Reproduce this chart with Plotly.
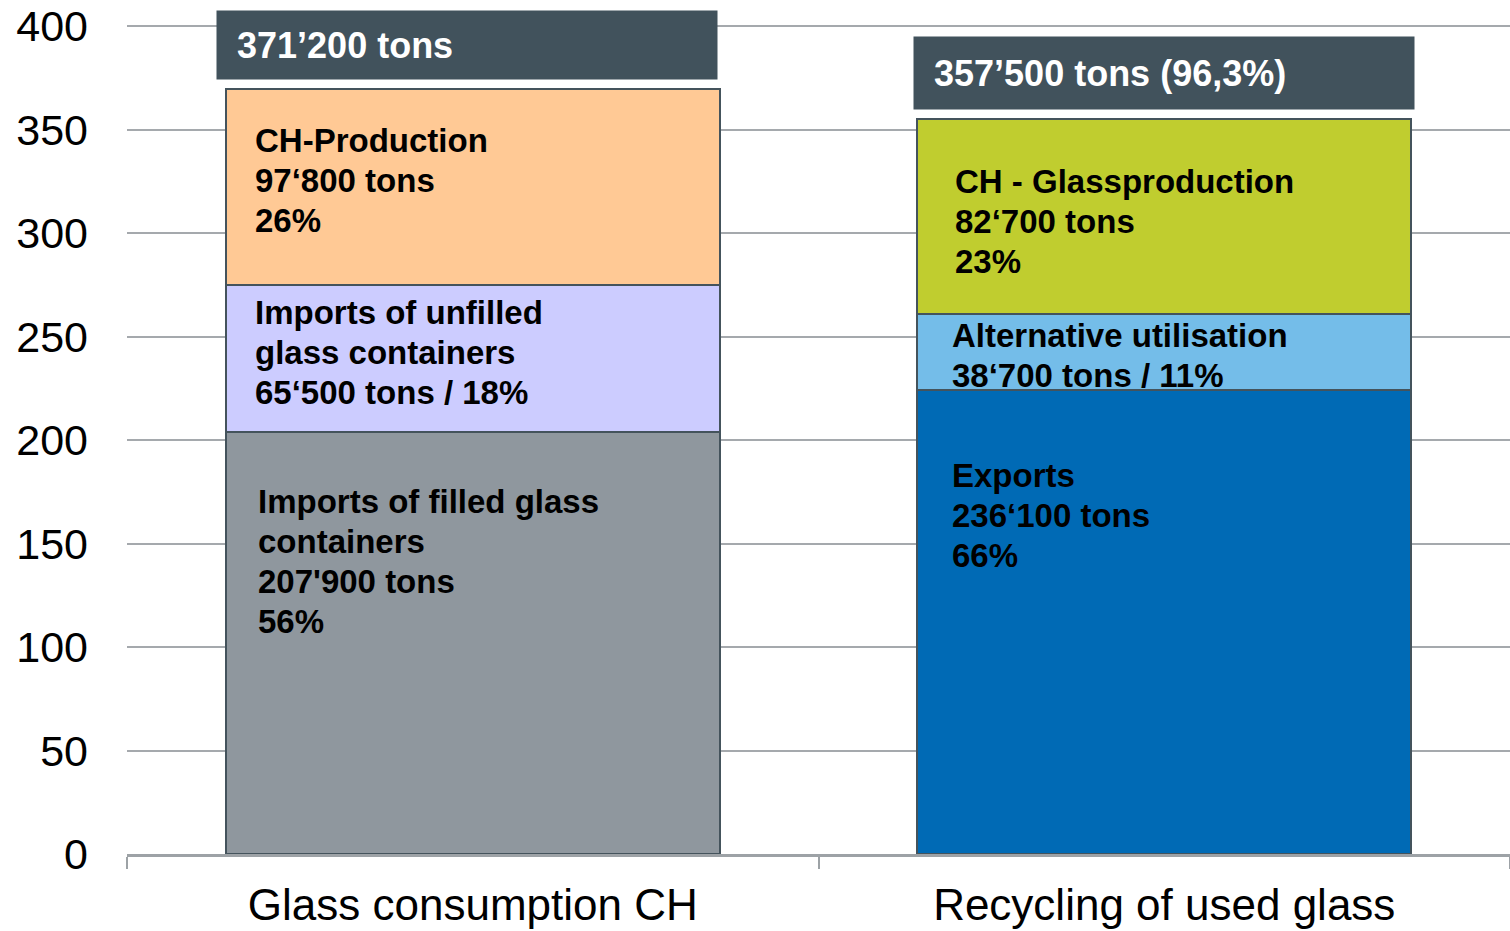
import plotly.graph_objects as go

# ---- data ----
categories = ["Glass consumption CH", "Recycling of used glass"]
bottom_vals = [204.0, 224.2]   # Imports of filled glass containers / Exports
middle_vals = [70.9, 36.5]     # Imports of unfilled glass containers / Alternative utilisation
top_vals = [94.8, 94.2]        # CH-Production / CH - Glassproduction

total_labels = ["371’200 tons", "357’500 tons (96,3%)"]

bottom_labels = [["Imports of filled glass", "containers", "207'900 tons", "56%"],
                 ["Exports", "236‘100 tons", "66%"]]
middle_labels = [["Imports of unfilled", "glass containers", "65‘500 tons / 18%"],
                 ["Alternative utilisation", "38‘700 tons / 11%"]]
top_labels = [["CH-Production", "97‘800 tons", "26%"],
              ["CH - Glassproduction", "82‘700 tons", "23%"]]

y_ticks = [0, 50, 100, 150, 200, 250, 300, 350, 400]

# ---- styles ----
FONT = "Liberation Sans, Arial, sans-serif"
bottom_colors = ["#8F979E", "#006AB5"]
middle_colors = ["#CCCCFF", "#74BDE9"]
top_colors = ["#FFC995", "#C0CD2F"]
outline = "#44535C"
box_color = "#41525C"
grid_color = "#A5A9AD"

fig = go.Figure()
for vals, cols in [(bottom_vals, bottom_colors), (middle_vals, middle_colors), (top_vals, top_colors)]:
    fig.add_trace(go.Bar(
        x=categories, y=vals, width=0.714,
        marker=dict(color=cols, line=dict(color=outline, width=2)),
        hoverinfo="skip", showlegend=False,
    ))

# segment labels: (lines, segment top value, pixel offset of first line below top, x shift)
label_specs = []
for i in range(2):
    b = bottom_vals[i]
    m = b + middle_vals[i]
    t = m + top_vals[i]
    if i == 0:
        label_specs += [(top_labels[i], t, 52, -220),
                        (middle_labels[i], m, 27, -220),
                        (bottom_labels[i], b, 70, -217)]
    else:
        label_specs += [(top_labels[i], t, 62, -211),
                        (middle_labels[i], m, 21, -214),
                        (bottom_labels[i], b, 86, -214)]

for idx, (lines, ytop, off, xs) in enumerate(label_specs):
    cat = categories[0] if idx < 3 else categories[1]
    for k, line in enumerate(lines):
        fig.add_annotation(
            x=cat, y=ytop, xref="x", yref="y",
            xanchor="left", yanchor="middle",
            xshift=xs, yshift=-(off + 40 * k),
            text="<b>" + line + "</b>", showarrow=False,
            font=dict(family=FONT, size=33, color="black"),
        )

# total boxes above bars
box_specs = [(-6, 68), (0, 72)]
for i in range(2):
    total = bottom_vals[i] + middle_vals[i] + top_vals[i]
    xs, h = box_specs[i]
    fig.add_annotation(
        x=categories[i], y=total, xref="x", yref="y",
        xanchor="center", yanchor="bottom", xshift=xs, yshift=9,
        text="\u00a0\u00a0<b>" + total_labels[i] + "</b>", showarrow=False,
        align="left", width=500, height=h, borderpad=0,
        bgcolor=box_color,
        font=dict(family=FONT, size=36, color="white"),
    )

fig.update_layout(
    width=1510, height=931,
    margin=dict(l=127, r=0, t=22, b=77),
    plot_bgcolor="white", paper_bgcolor="white",
    barmode="stack", bargap=0.286,
    showlegend=False,
    font=dict(family=FONT, color="black"),
)
fig.update_yaxes(
    range=[0, 402], tickmode="array", tickvals=y_ticks,
    showgrid=True, gridcolor=grid_color, gridwidth=2,
    zeroline=False, showline=False, ticks="", ticklabelstandoff=38,
    tickfont=dict(family=FONT, size=43, color="black"),
)
fig.update_xaxes(
    showline=True, linecolor="#9DA2A6", linewidth=3,
    ticks="outside", tickson="boundaries", ticklen=12, tickcolor="#9DA2A6", tickwidth=1.5,
    ticklabelstandoff=10,
    tickfont=dict(family=FONT, size=44, color="black"),
)

fig.write_html("out.html", config={"displayModeBar": False},
               post_script="document.body.style.margin='0';")
